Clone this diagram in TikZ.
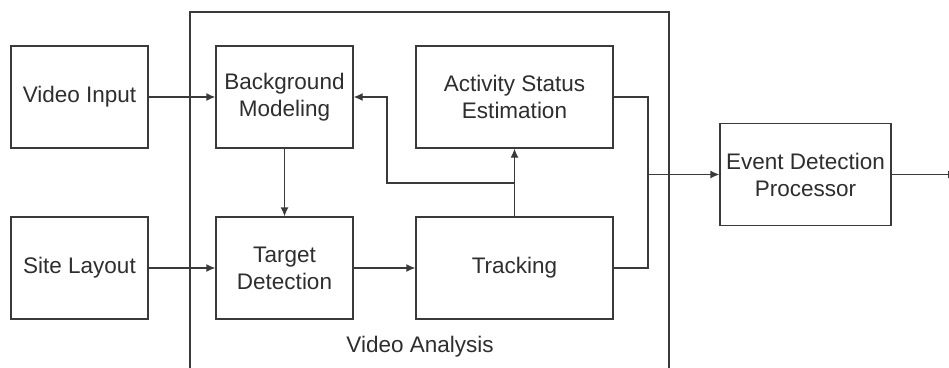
\documentclass[tikz,border=0pt]{standalone}
\usepackage{fontspec}
\setmainfont{Liberation Sans}
\usetikzlibrary{arrows.meta}
\definecolor{ln}{HTML}{3A3A3A}
\definecolor{tx}{HTML}{2E2E2E}
\begin{document}
\begin{tikzpicture}[x=1pt,y=-1pt,
  blk/.style={draw=ln,line width=1.3pt,fill=white,inner sep=0pt,align=center,
    text=tx,font=\fontsize{22.5}{27}\selectfont,minimum height=102pt},
  conn/.style={draw=ln,line width=1.3pt},
  arr/.style={conn,-{Latex[length=9pt,width=8pt]}}]
\clip (0,0) rectangle (949,367);
\fill[white] (0,0) rectangle (949,367);
% Video Analysis frame
\draw[conn] (190,372) -- (190,12) -- (669,12) -- (669,372);
\node[text=tx,font=\fontsize{22.5}{27}\selectfont] (valabel) at (420,347) {Video Analysis};
% blocks
\node[blk,minimum width=137pt] (vi) at (79.5,97) {Video Input};
\node[blk,minimum width=137pt] (sl) at (79.5,268) {Site Layout};
\node[blk,minimum width=137pt] (bm) at (284.5,97) {Background\\Modeling};
\node[blk,minimum width=137pt] (td) at (284.5,268) {Target\\Detection};
\node[blk,minimum width=197pt] (ase) at (514.5,97) {Activity Status\\Estimation};
\node[blk,minimum width=197pt] (tr) at (514.5,268) {Tracking};
\node[blk,minimum width=171pt] (edp) at (805.5,174.5) {Event Detection\\Processor};
% helper coordinates
\coordinate (b1) at (387,183);
\coordinate (c1) at (648,174.5);
\coordinate (out) at (957,174.5);
% connectors
\draw[arr] (vi.east) -- (bm.west);
\draw[arr] (sl.east) -- (td.west);
\draw[arr] (bm.south) -- (td.north);
\draw[arr] (td.east) -- (tr.west);
\draw[arr] (tr.north) -- (ase.south);
\draw[arr] (tr.north |- b1) -- (b1) |- (bm.east);
\draw[conn] (ase.east) -| (c1) |- (tr.east);
\draw[arr] (c1) -- (edp.west);
\draw[arr] (edp.east) -- (out);
\end{tikzpicture}
\end{document}
